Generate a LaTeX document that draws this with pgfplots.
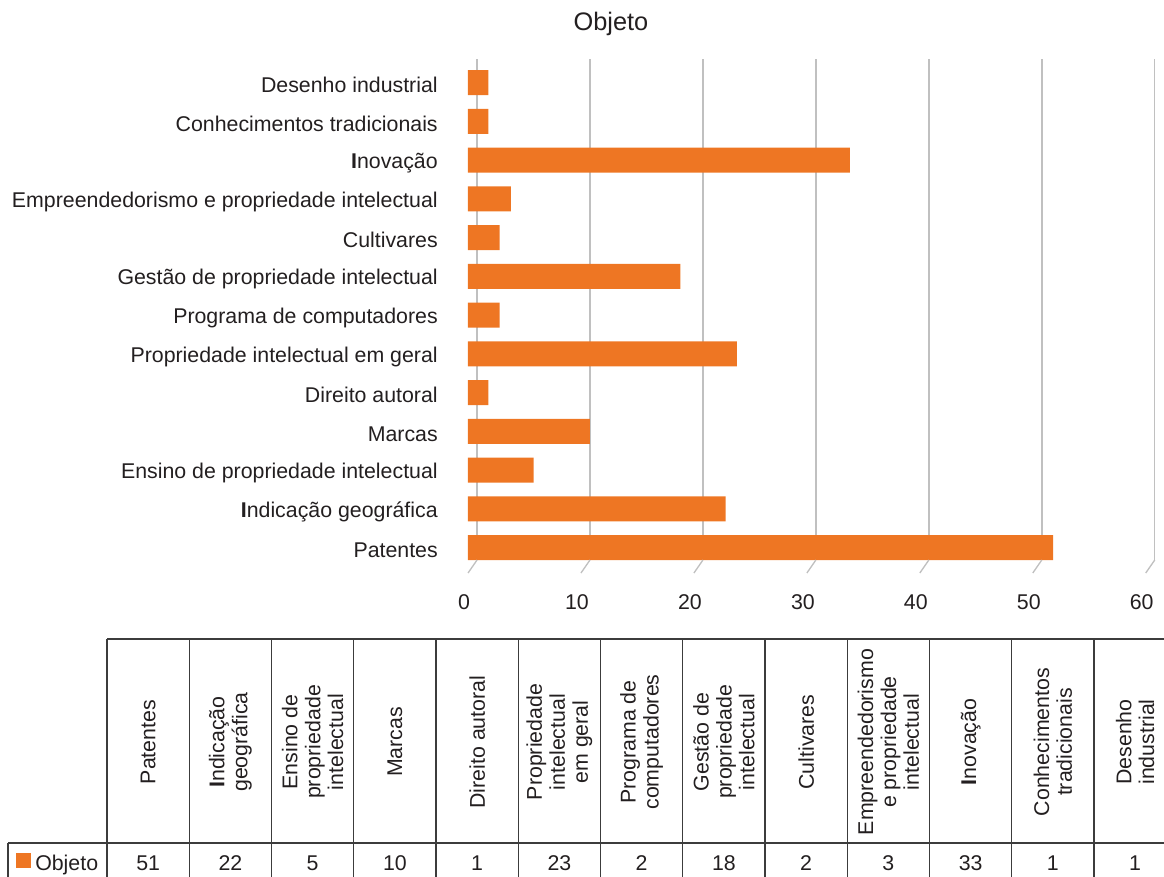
\documentclass[border=0pt]{standalone}
\usepackage{pgfplots}
\pgfplotsset{compat=1.18}
\usepackage{pgfplotstable}
\usepackage{fontspec}
\setmainfont{Liberation Sans}
\definecolor{barorange}{RGB}{238,118,35}
\definecolor{txt}{RGB}{35,31,32}
\definecolor{gridc}{RGB}{192,192,192}
\definecolor{rulec}{RGB}{60,60,60}

\pgfplotstableread{
idx value
0 51
1 22
2 5
3 10
4 1
5 23
6 2
7 18
8 2
9 3
10 33
11 1
12 1
}\objdata

\newcommand\hcell[2]{\node[rotate=90, align=center, text=txt, font=\fontsize{16}{17.2}\selectfont] at ({107+82.25*(#1+0.5)},742) {#2};}

\begin{document}
\begin{tikzpicture}[x=0.75pt,y=-0.75pt]
\useasboundingbox (0,0) rectangle (1164,876);
\node[font=\fontsize{19}{22}\selectfont, text=txt] at (611,24) {Objeto};
\begin{axis}[
  at={(351pt,-420pt)}, anchor=south west,
  scale only axis, width=516.75pt, height=375.75pt,
  xmin=-0.8, xmax=60.2, ymin=-0.32, ymax=12.61,
  xbar, bar width=18.75pt, bar shift=0pt,
  xtick={0,10,...,60}, xmajorgrids,
  major grid style={gridc, line width=1.1pt},
  ytick={0,...,12},
  yticklabels={Patentes,\textbf{I}ndicação geográfica,Ensino de propriedade intelectual,Marcas,Direito autoral,Propriedade intelectual em geral,Programa de computadores,Gestão de propriedade intelectual,Cultivares,Empreendedorismo e propriedade intelectual,\textbf{I}novação,Conhecimentos tradicionais,Desenho industrial},
  axis line style={draw=none}, major tick length=0pt,
  tick label style={font=\fontsize{16}{19}\selectfont, text=txt},
  xticklabel style={anchor=north, inner sep=0pt, xshift=-9.75pt, yshift=-25.5pt},
  yticklabel style={anchor=east, inner sep=0pt, xshift=-22.5pt, yshift=-2pt},
  /pgf/number format/assume math mode=true,
  clip=false,
]
\addplot[draw=none, fill=barorange] table[x=value, y=idx] {\objdata};
\addplot[draw=none, fill=barorange] table[x expr=-0.8, y=idx] {\objdata};
\pgfplotsinvokeforeach{0,10,20,30,40,50,60}{
  \draw[gridc, line width=1pt] (axis cs:#1,-0.32) -- ++(-6.75pt,-9.75pt);
}
\end{axis}
% data table
\foreach \k in {0,...,13}{
  \draw[rulec, line width=1pt] ({107+82.25*\k},639) -- ({107+82.25*\k},890);
}
\draw[rulec, line width=1pt] (107,639) -- (1185,639);
\draw[rulec, line width=1pt] (8,843) -- (1185,843);
\draw[rulec, line width=1pt] (8,843) -- (8,890);
\fill[barorange] (16,853) rectangle (31,868);
\node[anchor=base west, inner sep=0pt, text=txt, font=\fontsize{16}{19}\selectfont] at (35,870.5) {Objeto};
\foreach \k in {0,...,12}{
  \pgfplotstablegetelem{\k}{value}\of\objdata
  \node[anchor=base, inner sep=0pt, text=txt, font=\fontsize{16}{19}\selectfont] at ({107+82.25*(\k+0.5)},870.5) {\pgfplotsretval};
}
\hcell{0}{Patentes}
\hcell{1}{\textbf{I}ndicação\\geográfica}
\hcell{2}{Ensino de\\propriedade\\intelectual}
\hcell{3}{Marcas}
\hcell{4}{Direito autoral}
\hcell{5}{Propriedade\\intelectual\\em geral}
\hcell{6}{Programa de\\computadores}
\hcell{7}{Gestão de\\propriedade\\intelectual}
\hcell{8}{Cultivares}
\hcell{9}{Empreendedorismo\\e propriedade\\intelectual}
\hcell{10}{\textbf{I}novação}
\hcell{11}{Conhecimentos\\tradicionais}
\hcell{12}{Desenho\\industrial}
\end{tikzpicture}
\end{document}
